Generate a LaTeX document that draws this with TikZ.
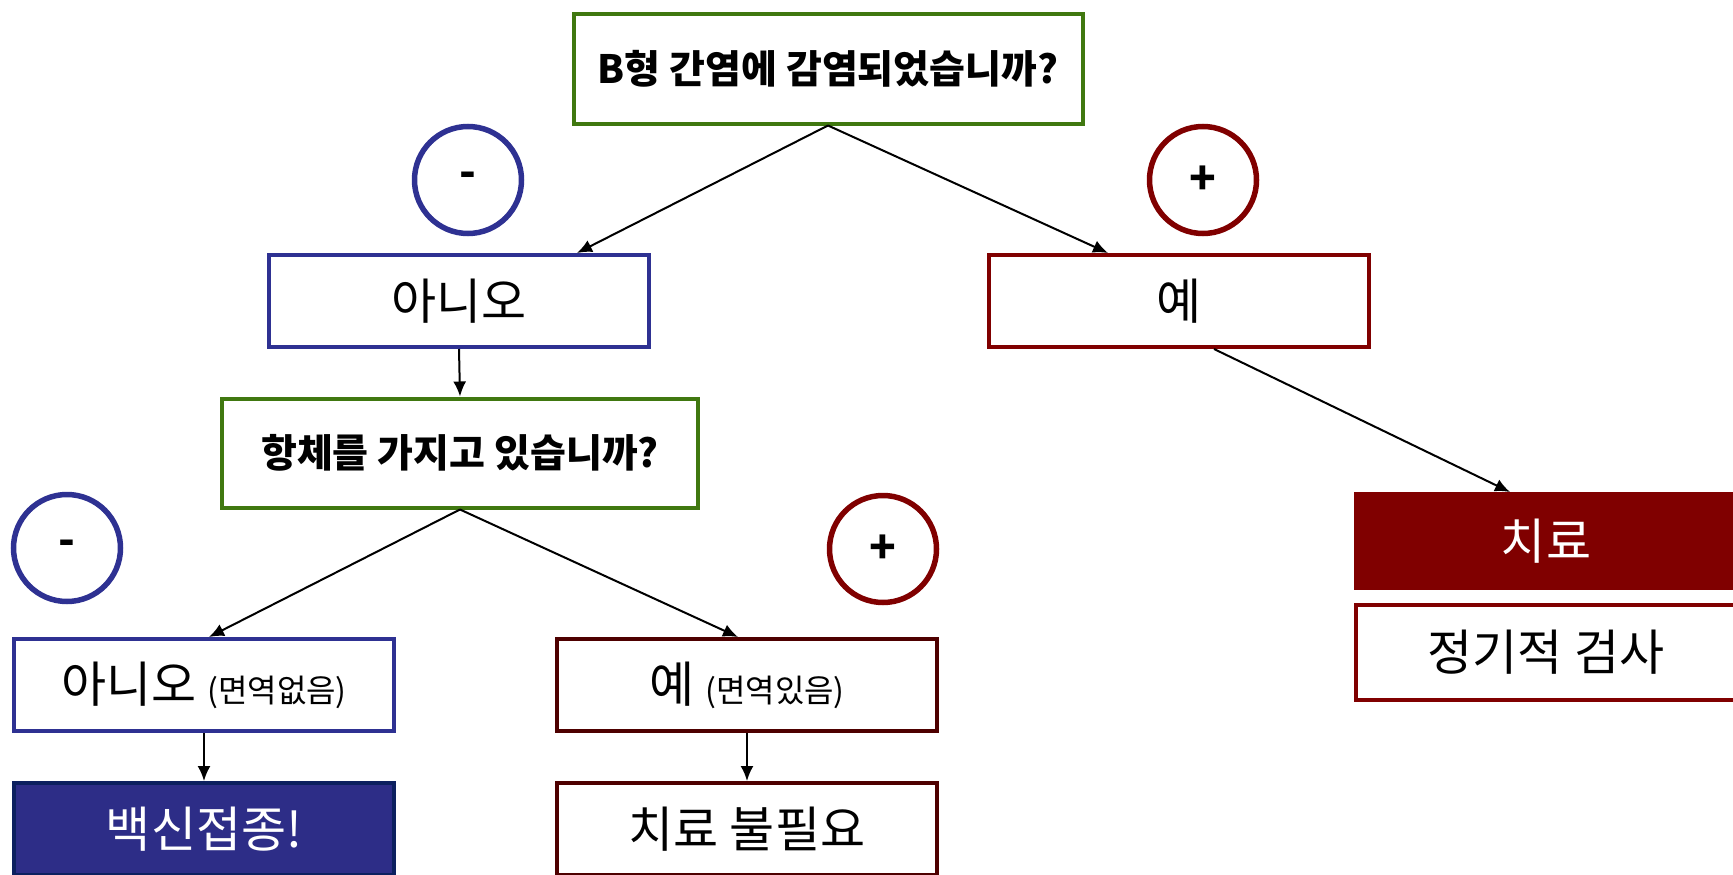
\documentclass[tikz,border=0pt]{standalone}
\usepackage{fontspec}
\setmainfont{Noto Sans CJK KR}
\usetikzlibrary{arrows.meta}
\definecolor{qgreen}{RGB}{64,120,16}
\definecolor{nblue}{RGB}{46,49,146}
\definecolor{vblue}{RGB}{45,45,135}
\definecolor{vborder}{RGB}{12,32,95}
\definecolor{pred}{RGB}{128,0,0}
\definecolor{dred}{RGB}{78,0,0}
\tikzset{
  box/.style={rectangle, draw, line width=4pt, inner sep=0pt, minimum width=380pt, minimum height=92pt, font=\fontsize{49}{56}\selectfont},
  qbox/.style={box, draw=qgreen, fill=white, minimum height=109pt, font=\fontsize{39}{46}\selectfont\bfseries},
  sign/.style={circle, draw, line width=5.5pt, inner sep=0pt, minimum size=107pt, font=\fontsize{44}{48}\selectfont\bfseries},
  arr/.style={line width=2pt, -{Latex[length=15pt,width=13pt]}}
}
\begin{document}
\begin{tikzpicture}[x=1pt,y=-1pt]
\useasboundingbox (0,0) rectangle (1733,875);
\clip (0,0) rectangle (1733,875);
\node[qbox, minimum width=509pt] (q1) at (828,69) {B형 간염에 감염되었습니까?};
\node[sign, draw=nblue] (neg1) at (468,180) {-};
\node[sign, draw=pred] (pos1) at (1203,180) {+};
\node[box, draw=nblue] (no1) at (459,301) {아니오};
\node[box, draw=pred] (yes1) at (1179,301) {예};
\node[qbox, minimum width=476pt] (q2) at (460,453) {항체를 가지고 있습니까?};
\node[sign, draw=nblue] (neg2) at (67,548) {-};
\node[sign, draw=pred] (pos2) at (883,549) {+};
\node[box, draw=nblue] (no2) at (204,685) {아니오 {\fontsize{32}{34}\selectfont(면역없음)}};
\node[box, draw=dred] (yes2) at (747,685) {예 {\fontsize{32}{34}\selectfont(면역있음)}};
\node[box, draw=vborder, fill=vblue, text=white] (vac) at (204,829) {백신접종!};
\node[box, draw=dred] (notreat) at (747,829) {치료 불필요};
\node[box, draw=pred, fill=pred, text=white, minimum height=94pt] (treat) at (1546,541) {치료};
\node[box, draw=pred, minimum height=95pt] (check) at (1546,652) {정기적 검사};
\draw[arr] (q1.south) -- ([xshift=118pt]no1.north);
\draw[arr] (q1.south) -- ([xshift=-71pt]yes1.north);
\draw[arr] (no1.south) -- (q2.north);
\draw[arr] ([xshift=35pt]yes1.south) -- ([xshift=-36pt]treat.north);
\draw[arr] (q2.south) -- ([xshift=5pt]no2.north);
\draw[arr] (q2.south) -- ([xshift=-9pt]yes2.north);
\draw[arr] (no2.south) -- (vac.north);
\draw[arr] (yes2.south) -- (notreat.north);
\end{tikzpicture}
\end{document}
